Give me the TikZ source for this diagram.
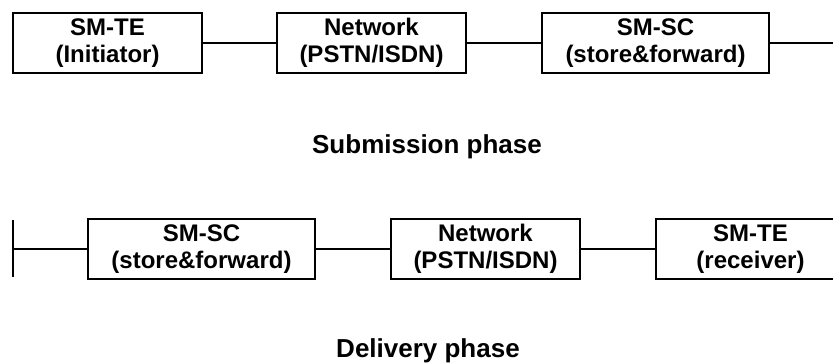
\documentclass[tikz,border=0pt]{standalone}
\usepackage{fontspec}
\setmainfont{Liberation Sans}
\begin{document}
\begin{tikzpicture}[x=1pt,y=-1pt,line width=1.2pt,
	box/.style={draw,line width=1.5pt,inner sep=0pt,minimum height=60pt,align=center,
		font=\bfseries\fontsize{24}{27.5}\selectfont},
	phase/.style={anchor=base,font=\bfseries\fontsize{26}{30}\selectfont}]
	\useasboundingbox (0,0) rectangle (833,362);
	\node[box,minimum width=189pt] (te) at (107.5,43) {SM-TE\\(Initiator)};
	\node[box,minimum width=189pt] (nw) at (371.5,43) {Network\\(PSTN/ISDN)};
	\node[box,minimum width=227pt] (sc) at (655.5,43) {SM-SC\\(store\&forward)};
	\coordinate (r) at (840,43);
	\draw (te) -- (nw) (nw) -- (sc) (sc) -- (r);
	\node[phase] (sub) at (427,153) {Submission phase};
	\node[box,minimum width=227pt] (sc2) at (201.5,249) {SM-SC\\(store\&forward)};
	\node[box,minimum width=189pt] (nw2) at (485.5,249) {Network\\(PSTN/ISDN)};
	\node[box,minimum width=189pt] (te2) at (750.5,249) {SM-TE\\(receiver)};
	\coordinate (l) at (13,249);
	\draw (13,220) -- (13,277);
	\draw (l) -- (sc2) (sc2) -- (nw2) (nw2) -- (te2);
	\node[phase] (del) at (428,357) {Delivery phase};
\end{tikzpicture}
\end{document}
